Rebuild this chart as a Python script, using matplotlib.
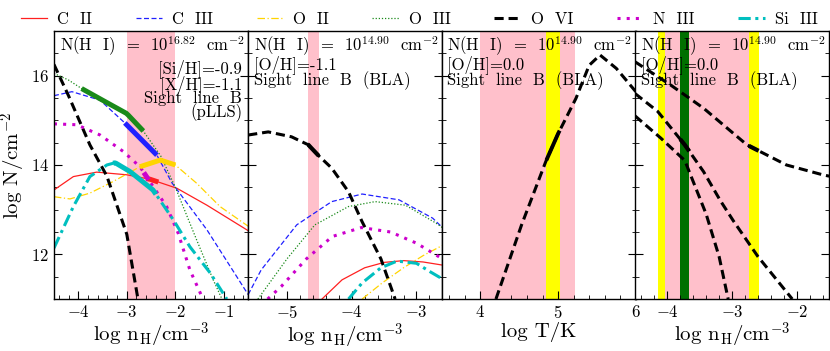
import numpy as np
import matplotlib
matplotlib.use('Agg')
import matplotlib.pyplot as plt
from matplotlib.ticker import MultipleLocator

plt.rcParams.update({
    'font.family': 'cmr10',
    'mathtext.fontset': 'cm',
    'axes.unicode_minus': False,
    'axes.formatter.use_mathtext': True,
    'font.size': 12,
})

# ---- panel 1: N(HI)=10^16.82, pLLS (log nH) ----
p1_c2_x = [-4.5, -4.1, -3.62, -3.0, -2.52, -1.97, -1.35, -0.5]
p1_c2_y = [13.44, 13.74, 13.84, 13.78, 13.68, 13.48, 13.1, 12.53]
p1_c3_x = [-4.5, -4.13, -3.55, -3.04, -2.38, -2.07, -1.35, -0.5]
p1_c3_y = [15.55, 15.64, 15.45, 14.94, 14.22, 13.6, 12.55, 11.1]
p1_o2_x = [-4.5, -4.17, -3.76, -3.28, -2.73, -2.31, -2.0, -1.56, -1.08, -0.5]
p1_o2_y = [13.29, 13.24, 13.37, 13.63, 13.96, 14.11, 14.0, 13.59, 13.07, 12.63]
p1_o3_x = [-4.5, -4.2, -3.93, -3.5, -3.0, -2.66, -2.3, -2.0, -1.56, -1.22, -1.04]
p1_o3_y = [16.05, 15.9, 15.71, 15.45, 15.15, 14.76, 14.2, 13.5, 12.32, 11.43, 11.0]
p1_o6_x = [-4.5, -4.2, -3.76, -3.41, -3.0, -2.77]
p1_o6_y = [16.25, 15.55, 14.45, 13.75, 12.45, 11.0]
p1_n3_x = [-4.5, -4.03, -3.55, -3.07, -2.73, -2.18, -1.94, -1.7, -1.43]
p1_n3_y = [14.92, 14.9, 14.67, 14.3, 13.96, 13.07, 12.47, 11.65, 11.0]
p1_si3_x = [-4.5, -4.1, -3.76, -3.41, -3.24, -2.93, -2.46, -2.04, -1.7, -1.28, -0.94]
p1_si3_y = [12.14, 13.07, 13.74, 14.0, 14.05, 13.85, 13.44, 12.77, 12.17, 11.58, 11.0]
# observed (thick) ranges on each curve
p1_obs = {'C II': (-2.6, -2.35), 'C III': (-3.04, -2.38), 'O II': (-2.73, -2.0),
          'O III': (-3.93, -2.66), 'N III': (-2.65, -2.55), 'Si III': (-3.28, -2.4)}
p1_band = (-3.0, -2.0)

# ---- panel 2: N(HI)=10^14.90, BLA, [O/H]=-1.1 ----
p2_c2_x = [-4.46, -4.15, -3.8, -3.5, -3.2, -2.9, -2.6]
p2_c2_y = [11.0, 11.43, 11.7, 11.82, 11.86, 11.83, 11.76]
p2_c3_x = [-5.6, -5.4, -4.85, -4.31, -3.84, -3.27, -2.75, -2.6]
p2_c3_y = [11.1, 11.65, 12.66, 13.18, 13.35, 13.22, 12.81, 12.6]
p2_o2_x = [-3.84, -3.53, -3.2, -2.9, -2.6]
p2_o2_y = [11.0, 11.36, 11.7, 11.97, 12.2]
p2_o3_x = [-5.45, -5.0, -4.57, -4.05, -3.64, -3.17, -2.7, -2.6]
p2_o3_y = [11.0, 11.9, 12.66, 13.07, 13.18, 13.1, 12.7, 12.6]
p2_o6_x = [-5.6, -5.29, -4.93, -4.67, -4.52, -4.31, -4.05, -3.84, -3.55, -3.33]
p2_o6_y = [14.67, 14.74, 14.63, 14.45, 14.22, 13.93, 13.4, 12.73, 11.9, 11.0]
p2_n3_x = [-5.3, -5.09, -4.7, -4.3, -3.85, -3.4, -3.0, -2.6]
p2_n3_y = [11.0, 11.28, 11.9, 12.4, 12.6, 12.5, 12.25, 11.9]
p2_si3_x = [-4.05, -3.84, -3.55, -3.3, -3.0, -2.8, -2.6]
p2_si3_y = [11.0, 11.36, 11.7, 11.85, 11.8, 11.62, 11.45]
p2_band = (-4.68, -4.51)

# ---- panel 3: O VI vs log T ----
p3_o6_x = [4.2, 4.53, 4.84, 5.0, 5.23, 5.4, 5.54, 5.75, 6.0]
p3_o6_y = [11.0, 12.66, 14.07, 14.7, 15.49, 16.23, 16.46, 16.16, 15.64]
p3_band = (4.0, 5.22)
p3_band_y = (4.85, 5.02)

# ---- panel 4: three O VI solutions vs log nH ----
p4_a_x = [-4.5, -3.95, -3.44, -2.77, -2.16, -1.6, -1.5]
p4_a_y = [16.31, 15.79, 15.27, 14.45, 14.0, 13.78, 13.75]
p4_b_x = [-4.5, -4.15, -3.73, -3.44, -3.18, -2.98, -2.6, -2.07]
p4_b_y = [15.6, 15.2, 14.45, 13.85, 13.2, 12.75, 11.95, 11.0]
p4_c_x = [-4.5, -4.1, -3.73, -3.4, -3.2, -3.06]
p4_c_y = [15.1, 14.6, 14.1, 12.9, 11.95, 11.0]
p4_band = (-4.03, -2.74)
p4_yellow = [(-4.15, -4.03), (-2.74, -2.59)]
p4_green = (-3.8, -3.66)

styles = {
    'C II': dict(color='#ff2020', lw=0.9, ls='-'),
    'C III': dict(color='#2020ff', lw=0.9, ls=(0, (4, 2))),
    'O II': dict(color='#ffd400', lw=0.9, ls=(0, (6, 2, 1, 2))),
    'O III': dict(color='#1a8a1a', lw=0.9, ls=(0, (1, 1.5))),
    'O VI': dict(color='black', lw=2.2, ls=(0, (3, 1.6))),
    'N III': dict(color='#cc00cc', lw=2.2, ls=(0, (1, 2))),
    'Si III': dict(color='#00bfbf', lw=2.2, ls=(0, (4, 1.5, 1, 1.5))),
}
thick_col = {'C II': '#ff2020', 'C III': '#2020ff', 'O II': '#ffd400', 'O III': '#1a8a1a',
             'N III': '#cc00cc', 'Si III': '#00bfbf', 'O VI': 'black'}

fig = plt.figure(figsize=(8.3, 3.51), dpi=100)
axes = []
lefts = [0.065, 0.299, 0.532, 0.765]
for i in range(4):
    ax = fig.add_axes([lefts[i], 0.148, 0.234, 0.764])
    axes.append(ax)


def thick(ax, x, y, lo, hi, name, lw=3.6):
    xs = np.array(x)
    ys = np.array(y)
    seg = np.linspace(lo, hi, 30)
    ax.plot(seg, np.interp(seg, xs, ys), color=thick_col[name], lw=lw, solid_capstyle='butt', zorder=4)


ax = axes[0]
ax.axvspan(*p1_band, color='pink', lw=0, zorder=0)
series1 = {'C II': (p1_c2_x, p1_c2_y), 'C III': (p1_c3_x, p1_c3_y), 'O II': (p1_o2_x, p1_o2_y),
           'O III': (p1_o3_x, p1_o3_y), 'O VI': (p1_o6_x, p1_o6_y), 'N III': (p1_n3_x, p1_n3_y),
           'Si III': (p1_si3_x, p1_si3_y)}
for name, (x, y) in series1.items():
    ax.plot(x, y, label=name, **styles[name])
    if name in p1_obs:
        thick(ax, x, y, p1_obs[name][0], p1_obs[name][1], name)
ax.set_xlim(-4.5, -0.5)
ax.text(0.03, 0.985, r'N(H  I)  =  10$^{16.82}$  cm$^{-2}$', transform=ax.transAxes, va='top', ha='left', fontsize=12)
ax.text(0.97, 0.895, '[Si/H]=-0.9\n[X/H]=-1.1\nSight  line  B\n(pLLS)', transform=ax.transAxes,
        va='top', ha='right', fontsize=12, linespacing=0.78)

txt_bla = 'N(H  I)  =  10$^{14.90}$  cm$^{-2}$\n[O/H]=%s\nSight  line  B  (BLA)'
ax = axes[1]
ax.axvspan(*p2_band, color='pink', lw=0, zorder=0)
series2 = {'C II': (p2_c2_x, p2_c2_y), 'C III': (p2_c3_x, p2_c3_y), 'O II': (p2_o2_x, p2_o2_y),
           'O III': (p2_o3_x, p2_o3_y), 'O VI': (p2_o6_x, p2_o6_y), 'N III': (p2_n3_x, p2_n3_y),
           'Si III': (p2_si3_x, p2_si3_y)}
for name, (x, y) in series2.items():
    ax.plot(x, y, **styles[name])
thick(ax, p2_o6_x, p2_o6_y, p2_band[0], p2_band[1], 'O VI', lw=3)
ax.set_xlim(-5.6, -2.6)
ax.text(0.03, 0.985, txt_bla % '-1.1', transform=ax.transAxes, va='top', ha='left',
        fontsize=12, linespacing=0.78)

ax = axes[2]
ax.axvspan(*p3_band, color='pink', lw=0, zorder=0)
ax.axvspan(*p3_band_y, color='yellow', lw=0, zorder=0)
ax.plot(p3_o6_x, p3_o6_y, **styles['O VI'])
thick(ax, p3_o6_x, p3_o6_y, p3_band_y[0], p3_band_y[1], 'O VI', lw=2.8)
ax.set_xlim(3.5, 6)
ax.text(0.03, 0.985, txt_bla % '0.0', transform=ax.transAxes, va='top', ha='left',
        fontsize=12, linespacing=0.78)

ax = axes[3]
ax.axvspan(*p4_band, color='pink', lw=0, zorder=0)
for lo, hi in p4_yellow:
    ax.axvspan(lo, hi, color='yellow', lw=0, zorder=0)
ax.axvspan(*p4_green, color='#007000', lw=0, zorder=0)
for x, y in [(p4_a_x, p4_a_y), (p4_b_x, p4_b_y), (p4_c_x, p4_c_y)]:
    ax.plot(x, y, **styles['O VI'])
thick(ax, p4_a_x, p4_a_y, p4_yellow[1][0], p4_yellow[1][1], 'O VI', lw=3)
thick(ax, p4_b_x, p4_b_y, p4_green[0], p4_green[1], 'O VI', lw=3)
ax.set_xlim(-4.5, -1.5)
ax.text(0.03, 0.985, txt_bla % '0.0', transform=ax.transAxes, va='top', ha='left',
        fontsize=12, linespacing=0.78)

xlabels = [r'log n$_{\rm H}$/cm$^{-3}$', r'log n$_{\rm H}$/cm$^{-3}$', 'log T/K', r'log n$_{\rm H}$/cm$^{-3}$']
for i, ax in enumerate(axes):
    ax.set_ylim(11, 17)
    ax.xaxis.set_major_locator(MultipleLocator(1))
    ax.xaxis.set_minor_locator(MultipleLocator(0.2))
    ax.yaxis.set_major_locator(MultipleLocator(2))
    ax.yaxis.set_minor_locator(MultipleLocator(0.5))
    ax.tick_params(which='both', direction='in', right=True, top=False, labelsize=12)
    ax.tick_params(which='major', length=6)
    ax.tick_params(which='minor', length=3)
    ax.set_xlabel(xlabels[i], fontsize=15, labelpad=1)
    if i > 0:
        ax.tick_params(labelleft=False)
    for s in ax.spines.values():
        s.set_linewidth(1.0)
axes[0].set_ylabel(r'log N/cm$^{-2}$', fontsize=15, labelpad=2)

handles, labels = axes[0].get_legend_handles_labels()
fig.legend(handles, ['C  II', 'C  III', 'O  II', 'O  III', 'O  VI', 'N  III', 'Si  III'],
           loc='upper center', bbox_to_anchor=(0.505, 1.01), ncol=7, frameon=False,
           handlelength=1.6, handletextpad=0.6, columnspacing=2.6, fontsize=12)

fig.savefig('out.png', dpi=100)
